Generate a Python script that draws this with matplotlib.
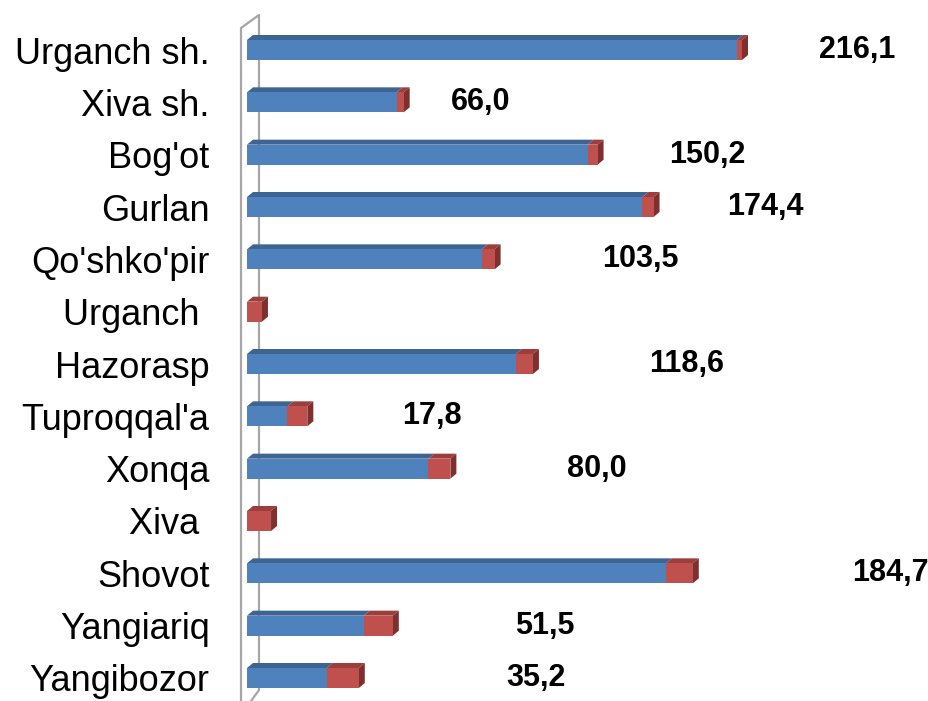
import matplotlib
matplotlib.use("Agg")
import matplotlib.pyplot as plt
from matplotlib.patches import Polygon

regions = [
    "Urganch sh.", "Xiva sh.", "Bog'ot", "Gurlan", "Qo'shko'pir", "Urganch ",
    "Hazorasp", "Tuproqqal'a", "Xonqa", "Xiva ", "Shovot", "Yangiariq", "Yangibozor",
]
main_vals = [216.1, 66.0, 150.2, 174.4, 103.5, 0.0, 118.6, 17.8, 80.0, 0.0, 184.7, 51.5, 35.2]
extra_vals = [2.2, 3.1, 4.4, 4.9, 5.7, 6.6, 7.5, 8.8, 9.7, 10.6, 11.9, 12.8, 14.1]
# third (invisible) series - the value labels sit in its middle
hidden_vals = [101.4, 68.2, 96.6, 98.2, 128.2, 0.0, 135.8, 110.0, 129.4, 0.0, 174.0, 134.2, 156.4]

BLUE, BLUE_TOP = "#4F81BD", "#3E6494"
RED, RED_TOP, RED_SIDE = "#C0504D", "#9C3F3C", "#7E302E"
WALL = "#A6A6A6"

plt.rcParams["font.family"] = ["Liberation Sans", "DejaVu Sans"]

W, H = 929, 701
fig = plt.figure(figsize=(W / 100, H / 100), dpi=100)
x0_px = 247
px_x = 2.2675          # pixels per unit
row_px = 52.33         # pixels per category
ax = fig.add_axes([x0_px / W, 0, 1 - x0_px / W, 1])
ax.set_xlim(0, (W - x0_px) / px_x)
ax.set_ylim(12 + (H - 678) / row_px, -50 / row_px)

dx = 6 / px_x
dy = 5 / row_px
h = 20 / row_px

# back wall
bx = 12 / px_x
fx = -6 / px_x
ax.plot([fx, fx, bx, bx, bx - 8 / px_x], [13.0, -22 / row_px, -35 / row_px, 640 / row_px, 651 / row_px],
        color=WALL, lw=1.6, clip_on=False, zorder=1)

ys = list(range(len(regions)))
ax.barh(ys, main_vals, height=h, color=BLUE, zorder=3)
ax.barh(ys, extra_vals, left=main_vals, height=h, color=RED, zorder=3)


def faces(left, width, y, top_col, side_col):
    t = y - h / 2
    b = y + h / 2
    r = left + width
    if width > 0:
        ax.add_patch(Polygon([(left, t), (r, t), (r + dx, t - dy), (left + dx, t - dy)],
                             closed=True, color=top_col, lw=0, zorder=2))
    if side_col:
        ax.add_patch(Polygon([(r, t), (r + dx, t - dy), (r + dx, b - dy), (r, b)],
                             closed=True, color=side_col, lw=0, zorder=2))


for y, m, e, hid in zip(ys, main_vals, extra_vals, hidden_vals):
    faces(0, m, y, BLUE_TOP, None)
    faces(m, e, y, RED_TOP, RED_SIDE)
    if m > 0:
        ax.text(m + e + hid / 2, y, f"{m:.1f}".replace(".", ","), ha="center", va="center",
                fontsize=22, fontweight="bold", color="black")

ax.set_yticks(ys)
ax.set_yticklabels(regions, fontsize=26)
ax.tick_params(axis="y", length=0, pad=27)
ax.set_xticks([])
for s in ax.spines.values():
    s.set_visible(False)

fig.savefig("out.png", dpi=100)
